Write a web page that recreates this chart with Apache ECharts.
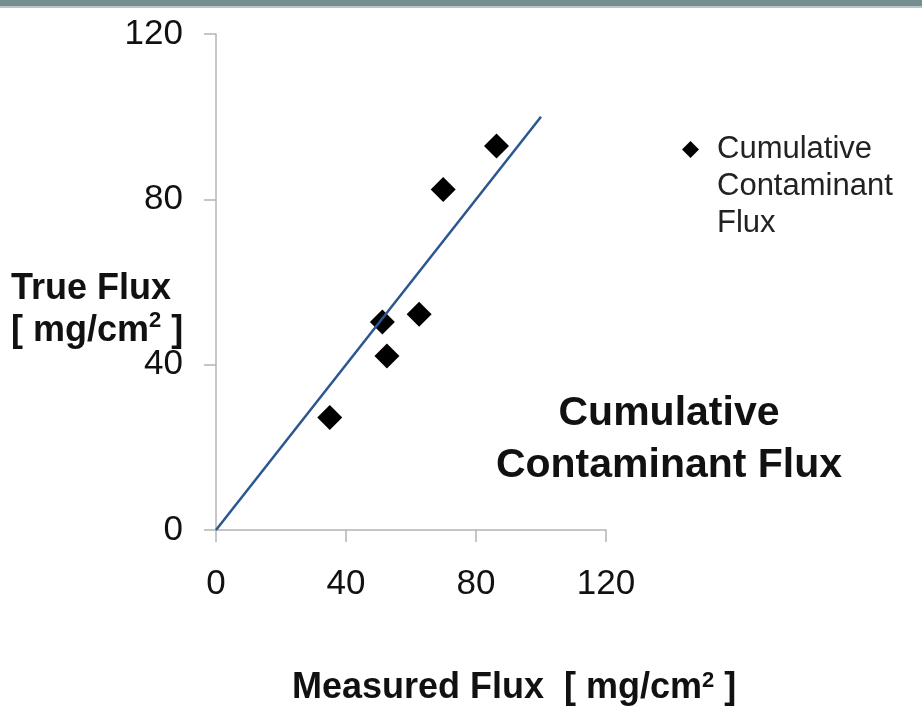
<!DOCTYPE html>
<html>
<head>
<meta charset="utf-8">
<script src="https://cdn.jsdelivr.net/npm/echarts@6/dist/echarts.min.js"></script>
<style>
  html, body { margin: 0; padding: 0; background: #fff; }
  #chart { width: 922px; height: 707px; }
</style>
</head>
<body>
<div id="chart"></div>
<script>
// measured vs true cumulative flux (mg/cm2)
var measuredFlux = [35.0, 51.2, 52.6, 62.5, 69.9, 86.3]
var trueFlux = [27.2, 50.3, 42.1, 52.2, 82.4, 92.9]
// 1:1 reference line
var refX = [0, 100]
var refY = [0, 100]
var axisMin = 0
var axisMax = 120
var axisStep = 40

var font = '"Liberation Sans", Arial, sans-serif'
var seriesName = 'Cumulative\nContaminant\nFlux'

var chart = echarts.init(document.getElementById('chart'))

chart.setOption({
  backgroundColor: '#fff',
  animation: false,
  grid: { left: 216, right: 316, top: 34, bottom: 177 },
  legend: {
    left: 677,
    top: 52,
    itemWidth: 17,
    itemHeight: 17,
    data: [{ name: seriesName, icon: 'diamond' }],
    // blank lines on top so the icon sits beside the first line
    formatter: function (name) { return '\n\n' + name },
    textStyle: {
      fontFamily: font,
      fontSize: 31,
      lineHeight: 37,
      color: '#222',
      padding: [0, 0, 0, 13]
    }
  },
  xAxis: {
    type: 'value',
    min: axisMin,
    max: axisMax,
    interval: axisStep,
    splitLine: { show: false },
    axisLine: { lineStyle: { color: '#b4b4b4', width: 1.5 } },
    axisTick: { length: 12, lineStyle: { color: '#b4b4b4', width: 1.5 } },
    axisLabel: { margin: 37, fontFamily: font, fontSize: 35, color: '#111' }
  },
  yAxis: {
    type: 'value',
    min: axisMin,
    max: axisMax,
    interval: axisStep,
    splitLine: { show: false },
    axisLine: { lineStyle: { color: '#b4b4b4', width: 1.5 } },
    axisTick: { length: 12, lineStyle: { color: '#b4b4b4', width: 1.5 } },
    axisLabel: { margin: 33, fontFamily: font, fontSize: 35, color: '#111' }
  },
  series: [
    {
      name: 'line',
      type: 'line',
      data: refX.map(function (x, i) { return [x, refY[i]] }),
      symbol: 'none',
      lineStyle: { color: '#2b5690', width: 2.5 },
      silent: true
    },
    {
      name: seriesName,
      type: 'scatter',
      data: measuredFlux.map(function (x, i) { return [x, trueFlux[i]] }),
      symbol: 'diamond',
      symbolSize: [25, 25],
      itemStyle: { color: '#000', opacity: 1 }
    }
  ],
  graphic: [
    { type: 'rect', shape: { x: 0, y: 0, width: 922, height: 6 }, style: { fill: '#748f8e' } },
    { type: 'rect', shape: { x: 0, y: 6, width: 922, height: 2 }, style: { fill: '#b9c6c5' } },
    {
      type: 'text', left: 11, top: 268,
      style: {
        text: 'True Flux\n[ mg/cm{sup|2} ]',
        font: 'bold 36px ' + font,
        lineHeight: 42,
        fill: '#111',
        rich: {
          sup: { fontSize: 22, fontWeight: 'bold', fontFamily: font, verticalAlign: 'top', fill: '#111' }
        }
      }
    },
    {
      type: 'text', left: 292, top: 670,
      style: {
        text: 'Measured Flux  [ mg/cm{sup|2} ]',
        font: 'bold 36px ' + font,
        fill: '#111',
        rich: {
          sup: { fontSize: 22, fontWeight: 'bold', fontFamily: font, verticalAlign: 'top', fill: '#111' }
        }
      }
    },
    {
      type: 'text', x: 669, y: 388,
      style: {
        text: 'Cumulative\nContaminant Flux',
        font: 'bold 41px ' + font,
        lineHeight: 52,
        align: 'center',
        verticalAlign: 'top',
        fill: '#111'
      }
    }
  ]
})
</script>
</body>
</html>
